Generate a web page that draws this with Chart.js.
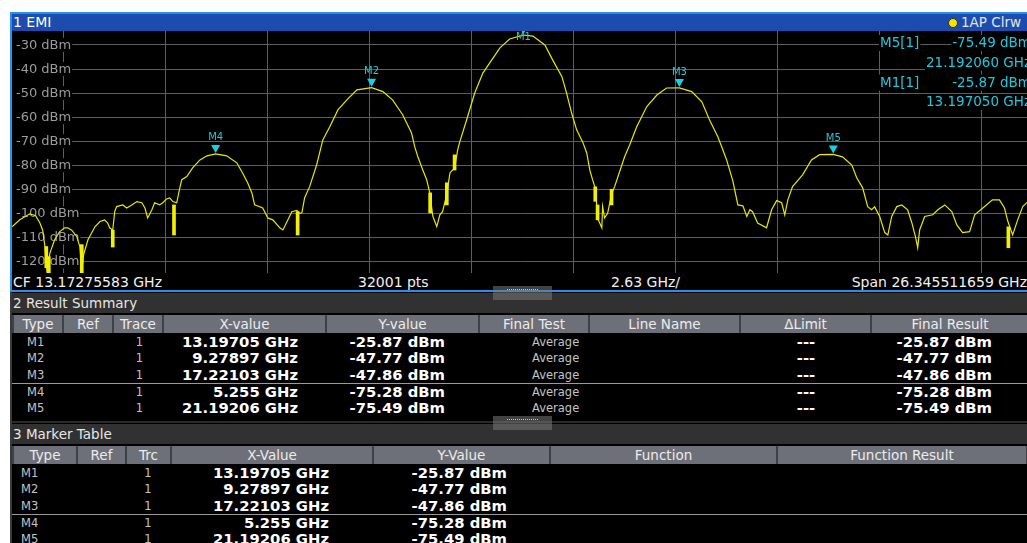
<!DOCTYPE html>
<html>
<head>
<meta charset="utf-8">
<script src="https://cdn.jsdelivr.net/npm/chart.js@4.4.1/dist/chart.umd.min.js"></script>
<style>
html, body { margin: 0; padding: 0; background: #fff; width: 1027px; height: 543px; overflow: hidden; font-family: "DejaVu Sans", sans-serif; }
.a { position: absolute; white-space: nowrap; }
#plot { position: absolute; left: 12px; top: 31px; width: 1021px; height: 242px; background: #000; }
</style>
</head>
<body>
<div id="root"></div>
<div id="plot"><canvas id="c" width="1021" height="242"></canvas></div>
<script>
// instrument settings
const centerFreq = 13.17275583;
const spanGHz = 26.345511659;
const sweepPts = 32001;
const divText = '2.63 GHz/';

// trace 1, GHz / dBm
const traceFreq = [0.00, 0.20, 0.46, 0.61, 0.72, 0.79, 0.85, 0.90, 0.98, 1.10, 1.23, 1.36, 1.44, 1.54, 1.67, 1.75, 1.80, 1.85, 1.96, 2.14,
  2.27, 2.39, 2.47, 2.52, 2.60, 2.65, 2.70, 2.86, 2.96, 3.09, 3.22, 3.35, 3.43, 3.50, 3.61, 3.68, 3.81, 3.89, 3.99, 4.07,
  4.15, 4.25, 4.33, 4.38, 4.51, 4.66, 4.85, 5.03, 5.255, 5.54, 5.80, 5.95, 6.08, 6.19, 6.26, 6.47, 6.60, 6.73, 6.91, 6.99,
  7.12, 7.22, 7.35, 7.43, 7.48, 7.55, 7.68, 7.86, 8.02, 8.20, 8.41, 8.64, 8.90, 9.279, 9.57, 9.82, 10.08, 10.31, 10.39, 10.47,
  10.60, 10.70, 10.78, 10.86, 10.96, 11.04, 11.11, 11.22, 11.30, 11.42, 11.50, 11.55, 11.73, 11.94, 12.15, 12.38, 12.59, 12.84, 13.197, 13.44,
  13.75, 13.95, 14.19, 14.31, 14.44, 14.57, 14.73, 14.83, 14.91, 14.98, 15.06, 15.11, 15.22, 15.24, 15.29, 15.37, 15.47, 15.55, 15.68, 15.81,
  15.94, 16.12, 16.38, 16.64, 16.89, 17.221, 17.54, 17.80, 18.00, 18.21, 18.31, 18.44, 18.60, 18.73, 18.86, 18.96, 19.04, 19.11, 19.24, 19.47,
  19.60, 19.73, 19.86, 19.94, 20.02, 20.14, 20.40, 20.63, 20.84, 21.192, 21.43, 21.67, 21.80, 21.95, 22.08, 22.18, 22.26, 22.39, 22.52, 22.60,
  22.70, 22.83, 22.96, 23.11, 23.22, 23.32, 23.37, 23.42, 23.55, 23.76, 23.89, 24.07, 24.25, 24.38, 24.53, 24.71, 24.84, 25.05, 25.30, 25.48,
  25.61, 25.69, 25.82, 25.95, 26.08, 26.26];
const traceLevel = [-105.6, -102.7, -100.2, -101.0, -104.0, -106.9, -113.8, -124.0, -116.4, -111.0, -107.6, -106.0, -106.0, -107.0, -109.6, -113.8, -124.0, -117.0, -111.0, -105.6,
  -103.4, -102.7, -104.0, -106.0, -107.0, -99.3, -97.2, -96.5, -97.8, -96.5, -95.1, -95.6, -97.8, -101.9, -98.5, -95.6, -96.5, -95.6, -94.0, -93.6,
  -95.1, -95.6, -89.4, -86.0, -84.7, -81.1, -77.8, -76.1, -75.28, -76.1, -79.0, -83.2, -87.3, -91.5, -96.5, -97.8, -101.9, -102.7, -106.0, -106.9,
  -102.7, -99.3, -98.8, -100.0, -99.8, -93.6, -88.9, -79.9, -69.5, -64.0, -57.0, -52.8, -48.7, -47.77, -49.4, -52.8, -59.0, -66.6, -72.2, -76.4,
  -82.0, -86.0, -91.5, -101.3, -105.5, -100.6, -99.3, -92.0, -83.2, -81.1, -73.6, -70.5, -61.2, -50.0, -41.7, -36.2, -31.2, -27.5, -25.87, -26.3,
  -30.0, -36.2, -43.2, -50.0, -58.3, -65.3, -70.5, -74.9, -82.0, -86.0, -90.0, -102.0, -106.0, -97.2, -101.9, -100.0, -92.0, -88.9, -82.6, -76.4,
  -71.5, -64.0, -55.6, -50.8, -47.9, -47.86, -49.4, -53.6, -61.2, -68.1, -72.2, -77.8, -86.5, -96.5, -96.9, -101.3, -98.5, -99.3, -104.0, -106.0,
  -98.5, -94.7, -95.6, -100.6, -94.4, -88.9, -84.0, -77.8, -75.6, -75.49, -76.5, -79.9, -85.3, -89.4, -97.2, -98.5, -97.3, -101.3, -108.0, -109.0,
  -101.3, -97.2, -96.5, -98.5, -104.0, -110.2, -114.3, -106.9, -101.3, -100.6, -98.5, -96.5, -99.3, -104.8, -108.0, -107.6, -100.6, -97.8, -94.4, -94.4,
  -97.8, -103.0, -109.0, -102.7, -97.2, -94.4];

// fast detector bursts (drawn as solid bars), GHz / dBm
const burstFreq = [0.885, 0.95, 1.80, 2.60, 4.18, 7.37, 10.79, 11.22, 11.42, 15.05, 15.11, 15.47, 25.71];
const burstLow = [-122.6, -125, -125, -114, -109, -109, -99.8, -96.5, -82, -95, -102.7, -96.5, -114.3];
const burstHigh = [-113.8, -118, -113, -107, -96.5, -99.3, -91.5, -87.3, -75.7, -89, -96.5, -90, -105.6];

// markers
const markerNames = ['M1', 'M2', 'M3', 'M4', 'M5'];
const markerFreq = [13.19705, 9.27897, 17.22103, 5.255, 21.19206];
const markerLevel = [-25.87, -47.77, -47.86, -75.28, -75.49];

// axis
const yTickValues = [-30, -40, -50, -60, -70, -80, -90, -100, -110, -120];
const yMin = -124.8, yMax = -24.2;

const fmtX = f => (+f.toFixed(5)).toString() + ' GHz';
const fmtY = v => v.toFixed(2) + ' dBm';
const fmtX6 = f => f.toFixed(6) + ' GHz';

const root = document.getElementById('root');
function box(left, top, w, h, bg, extra) {
    const d = document.createElement('div');
    d.className = 'a';
    d.style.cssText = `left:${left}px;top:${top}px;width:${w}px;height:${h}px;background:${bg};` + (extra || '');
    root.appendChild(d);
    return d;
}
function text(txt, x, top, h, css, align) {
    const d = document.createElement('div');
    d.className = 'a';
    d.textContent = txt;
    let pos;
    if (align === 'right') pos = `left:${x - 400}px;width:400px;text-align:right;`;
    else if (align === 'center') pos = `left:${x - 200}px;width:400px;text-align:center;`;
    else pos = `left:${x}px;`;
    d.style.cssText = pos + `top:${top}px;height:${h}px;line-height:${h}px;` + css;
    root.appendChild(d);
    return d;
}

// --- window 1: EMI ---
box(10, 12, 1017, 2, '#2590ee');
box(10, 14, 1017, 17, '#1b4cae');
box(10, 12, 2, 280, '#2590ee');
text('1 EMI', 13, 13, 18, 'font-size:14px;color:#fff;');
box(948, 18, 8, 8, '#f4e400', 'border-radius:50%;border:1px solid #333;');
text('1AP Clrw', 961, 13, 18, 'font-size:13.5px;color:#e4e4e4;');

box(12, 273, 1015, 18, '#000');
const infoCss = 'font-size:14px;color:#f2f2f2;';
text('CF ' + centerFreq.toFixed(8) + ' GHz', 13, 273, 18, infoCss);
text(sweepPts + ' pts', 358, 273, 18, infoCss);
text(divText, 611, 273, 18, infoCss);
text('Span ' + spanGHz.toFixed(9) + ' GHz', 1027, 273, 18, infoCss, 'right');
box(10, 290, 1017, 2, '#2590ee');

// --- lower panels ---
box(10, 292, 1017, 251, '#000');
box(10, 292, 2, 251, '#3a3a3a');

function handle(top) {
    const h = box(493, top, 59, 14, 'rgba(120,120,120,0.55)');
    const dots = document.createElement('div');
    dots.style.cssText = 'position:absolute;left:14px;top:3px;width:31px;height:1px;border-top:1px dotted #c8c8c8;';
    h.appendChild(dots);
}

function panel(title, top, cols, rows, cellSpec) {
    box(12, top, 1015, 20, '#313131');
    text(title, 13, top, 20, 'font-size:13.5px;color:#e6e6e6;');
    const hTop = top + 22;
    box(12, hTop, 1015, 18, '#3d4047');
    cols.forEach(c => {
        box(c.l + 1, hTop, c.r - c.l - 2, 18, '#6d7079');
        text(c.h, (c.l + c.r) / 2, hTop, 18, 'font-size:13.5px;color:#ececec;', 'center');
    });
    const rTop = hTop + 18.5;
    rows.forEach((r, i) => {
        const t = rTop + i * 16.7;
        cellSpec.forEach((s, k) => {
            if (r[k] === '') return;
            text(r[k], s.x, t, 16.7, s.bold ? 'font-size:14.8px;font-weight:bold;color:#fff;' : 'font-size:11.5px;color:#c4c4c4;', s.align);
        });
    });
    box(12, rTop + 3 * 16.7 - 0.5, 1015, 1, '#9a9a9a');
}

const summaryCols = [
    { h: 'Type', l: 13, r: 63 }, { h: 'Ref', l: 63, r: 113 }, { h: 'Trace', l: 113, r: 163 },
    { h: 'X-value', l: 163, r: 326 }, { h: 'Y-value', l: 326, r: 479 }, { h: 'Final Test', l: 479, r: 589 },
    { h: 'Line Name', l: 589, r: 740 }, { h: '\u0394Limit', l: 740, r: 871 }, { h: 'Final Result', l: 871, r: 1029 }
];
const summaryRows = markerNames.map((m, i) =>
    [m, '1', fmtX(markerFreq[i]), fmtY(markerLevel[i]), 'Average', '---', fmtY(markerLevel[i])]);
panel('2 Result Summary', 293, summaryCols, summaryRows, [
    { x: 27 }, { x: 139.5, align: 'center' }, { x: 298, align: 'right', bold: true }, { x: 445, align: 'right', bold: true },
    { x: 532 }, { x: 806, align: 'center', bold: true }, { x: 992, align: 'right', bold: true }
]);
handle(286);

const tableCols = [
    { h: 'Type', l: 13, r: 77 }, { h: 'Ref', l: 77, r: 126 }, { h: 'Trc', l: 126, r: 171 },
    { h: 'X-Value', l: 171, r: 373 }, { h: 'Y-Value', l: 373, r: 550 }, { h: 'Function', l: 550, r: 777 },
    { h: 'Function Result', l: 777, r: 1027 }
];
const tableRows = markerNames.map((m, i) => [m, '1', fmtX(markerFreq[i]), fmtY(markerLevel[i])]);
box(12, 421, 1015, 2, '#2a2a2a');
panel('3 Marker Table', 424, tableCols, tableRows, [
    { x: 21 }, { x: 148, align: 'center' }, { x: 329, align: 'right', bold: true }, { x: 507, align: 'right', bold: true }
]);
handle(416);

// --- spectrum chart ---
const overlay = {
    id: 'overlay',
    beforeDatasetsDraw(chart) {
        const { ctx, scales: { y } } = chart;
        ctx.save();
        ctx.font = '13px "DejaVu Sans"';
        ctx.textBaseline = 'middle';
        yTickValues.forEach(v => {
            const py = y.getPixelForValue(v);
            const t = v + ' dBm';
            const w = ctx.measureText(t).width;
            ctx.fillStyle = '#000';
            ctx.fillRect(0, py - 7, w + 5, 14);
            ctx.fillStyle = '#9c9c9c';
            ctx.fillText(t, 4, py + 0.5);
        });
        ctx.restore();
    },
    afterDatasetsDraw(chart) {
        const { ctx, scales: { x, y }, chartArea } = chart;
        ctx.save();
        ctx.beginPath();
        ctx.rect(chartArea.left, chartArea.top, chartArea.width, chartArea.height);
        ctx.clip();
        markerFreq.forEach((f, i) => {
            const px = x.getPixelForValue(f);
            const py = y.getPixelForValue(markerLevel[i]);
            ctx.fillStyle = '#14d4e4';
            ctx.beginPath();
            ctx.moveTo(px - 4.5, py - 9);
            ctx.lineTo(px + 4.5, py - 9);
            ctx.lineTo(px, py - 1);
            ctx.closePath();
            ctx.fill();
            ctx.font = '10px "DejaVu Sans"';
            ctx.textAlign = 'center';
            ctx.textBaseline = 'middle';
            ctx.fillStyle = '#2cc4d4';
            ctx.fillText(markerNames[i], px, Math.max(py - 16, chartArea.top + 6));
        });

        // marker info (M5, M1)
        ctx.font = '13.5px "DejaVu Sans"';
        ctx.textBaseline = 'middle';
        const put = (t, px, py, align) => {
            const w = ctx.measureText(t).width;
            const left = align === 'right' ? px - w : px;
            ctx.fillStyle = '#000';
            ctx.fillRect(left - 1, py - 8, w + 2, 16);
            ctx.fillStyle = '#22c8dc';
            ctx.textAlign = 'left';
            ctx.fillText(t, left, py + 0.5);
        };
        [4, 0].forEach((m, k) => {
            const top = 12 + k * 39.5;
            put(markerNames[m] + '[1]', 868, top);
            put(fmtY(markerLevel[m]), 1019, top, 'right');
            put(fmtX6(markerFreq[m]), 1019, top + 19.5, 'right');
        });
        ctx.restore();
    }
};

const xTickValues = [1, 2, 3, 4, 5, 6, 7, 8, 9].map(i => i * spanGHz / 10);
const xStart = centerFreq - spanGHz / 2;

new Chart(document.getElementById('c').getContext('2d'), {
    type: 'line',
    data: {
        datasets: [{
            type: 'line',
            data: traceFreq.map((f, i) => ({ x: f, y: traceLevel[i] })),
            borderColor: '#e8e800',
            borderWidth: 1.2,
            pointRadius: 0,
            tension: 0,
            order: 2
        }, {
            type: 'bar',
            data: burstFreq.map((f, i) => ({ x: f, y: [burstLow[i], burstHigh[i]] })),
            backgroundColor: '#f0f000',
            barThickness: 3,
            order: 1
        }]
    },
    options: {
        responsive: false,
        animation: false,
        devicePixelRatio: 1,
        layout: { padding: 0 },
        plugins: { legend: { display: false }, tooltip: { enabled: false } },
        scales: {
            x: {
                type: 'linear', min: xStart, max: xStart + spanGHz, offset: false,
                ticks: { display: false },
                grid: { color: '#5e5e5e', drawTicks: false, lineWidth: 1 },
                border: { display: false },
                afterBuildTicks: ax => { ax.ticks = xTickValues.map(v => ({ value: v })); }
            },
            y: {
                type: 'linear', min: yMin, max: yMax,
                ticks: { display: false },
                grid: { color: '#5e5e5e', drawTicks: false, lineWidth: 1 },
                border: { display: false },
                afterBuildTicks: ax => { ax.ticks = yTickValues.map(v => ({ value: v })); }
            }
        }
    },
    plugins: [overlay]
});
</script>
</body>
</html>
